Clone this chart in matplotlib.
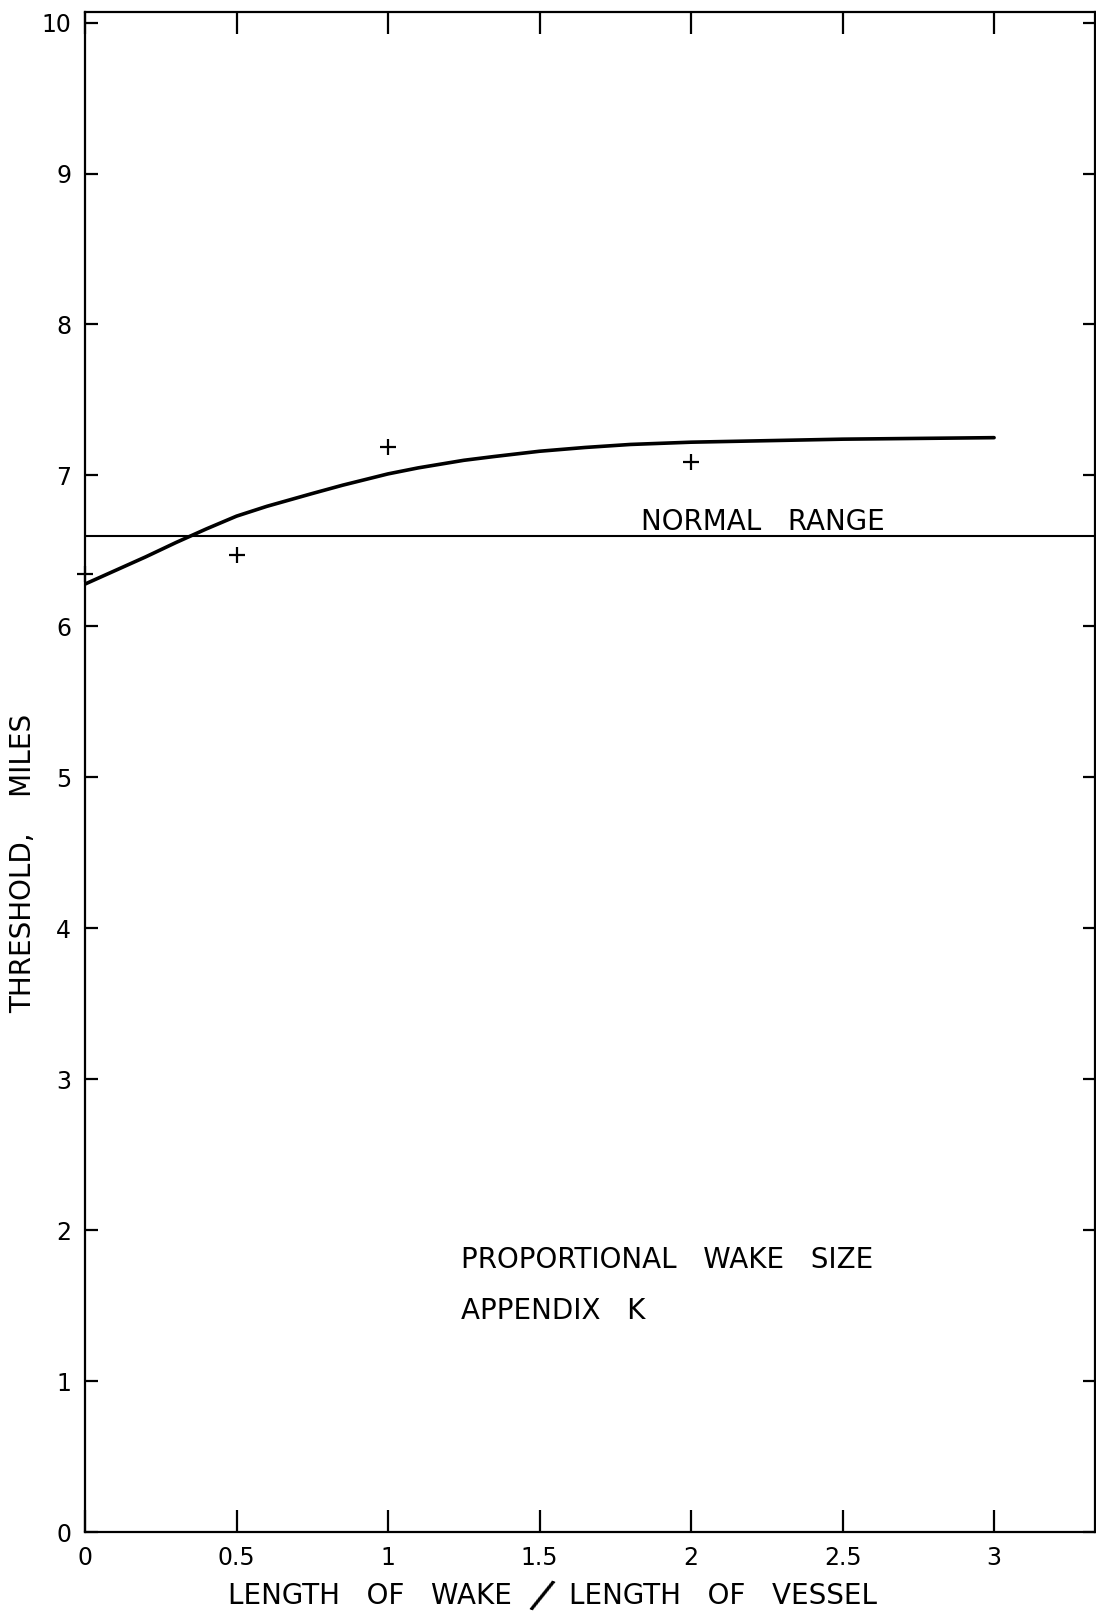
import matplotlib
matplotlib.use("Agg")
import matplotlib.pyplot as plt

# Curve
wake_ratio = [0.0, 0.1, 0.2, 0.3, 0.4, 0.5, 0.6, 0.75, 0.85, 1.0, 1.1, 1.25,
              1.35, 1.5, 1.65, 1.8, 2.0, 2.25, 2.5, 2.75, 3.0]
threshold = [6.28, 6.37, 6.46, 6.555, 6.645, 6.73, 6.795, 6.88, 6.935, 7.01, 7.05, 7.10,
             7.125, 7.16, 7.185, 7.205, 7.22, 7.23, 7.24, 7.245, 7.25]

# Measured points (+)
pts_x = [0.0, 0.5, 1.0, 2.0]
pts_y = [6.35, 6.47, 7.19, 7.09]

normal_range = 6.6

x_ticks = [0, 0.5, 1, 1.5, 2, 2.5, 3]
x_tick_labels = ["0", "0.5", "1", "1.5", "2", "2.5", "3"]
y_ticks = [0, 1, 2, 3, 4, 5, 6, 7, 8, 9, 10]

W, H = 1096, 1617
plt.rcParams["font.family"] = "DejaVu Sans"

fig = plt.figure(figsize=(W / 100, H / 100), dpi=100)
ax = fig.add_axes([85 / W, 85 / H, 1010 / W, 1520 / H])

ax.plot(wake_ratio, threshold, color="black", linewidth=2.6,
        solid_capstyle="round", solid_joinstyle="round")
ax.axhline(normal_range, color="black", linewidth=1.5)
ax.plot(pts_x, pts_y, linestyle="none", marker="+", markersize=12,
        markeredgewidth=1.6, color="black", clip_on=False)

ax.set_xlim(0, 3.333)
ax.set_ylim(0, 10.07)

ax.set_xticks(x_ticks)
ax.set_xticklabels(x_tick_labels)
ax.set_yticks(y_ticks)

ax.tick_params(axis="x", direction="in", length=16, width=1.6, top=True,
               labelsize=17, pad=10)
ax.tick_params(axis="y", direction="in", length=9, width=1.6, right=True,
               labelsize=17, pad=10)
for s in ax.spines.values():
    s.set_linewidth(1.6)

# lettering, placed in pixel coords of the original sheet
fs = 20
fig.text(641 / W, 1 - 522 / H, "NORMAL   RANGE", fontsize=fs, ha="left", va="center")
fig.text(461 / W, 1 - 1260 / H, "PROPORTIONAL   WAKE   SIZE", fontsize=fs,
         ha="left", va="center")
fig.text(461 / W, 1 - 1311 / H, "APPENDIX   K", fontsize=fs, ha="left", va="center")

ylab = 1 - 1596 / H
fig.text(512 / W, ylab, "LENGTH   OF   WAKE", fontsize=fs, ha="right", va="center")
fig.text(541 / W, 1 - 1597 / H, "/", fontsize=30, rotation=-22,
         ha="center", va="center")
fig.text(569 / W, ylab, "LENGTH   OF   VESSEL", fontsize=fs, ha="left", va="center")

fig.text(23 / W, 1 - 863 / H, "THRESHOLD,    MILES", fontsize=fs, rotation=90,
         ha="center", va="center")

fig.savefig("out.png", dpi=100)
